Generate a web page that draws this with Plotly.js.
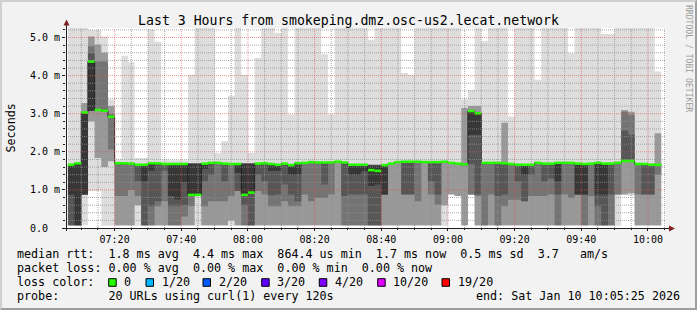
<!DOCTYPE html>
<html><head><meta charset="utf-8">
<script src="https://cdn.plot.ly/plotly-3.0.1.min.js"></script>
<style>
html,body{margin:0;padding:0;background:#f2f2f2;}
#wrap{position:relative;width:697px;height:310px;overflow:hidden;}
#chart{width:697px;height:310px;}
#frame{position:absolute;left:0;top:0;width:697px;height:310px;box-sizing:border-box;border-style:solid;border-width:2px;border-color:#cfcfcf #9e9e9e #9e9e9e #cfcfcf;pointer-events:none;}
</style></head><body>
<div id="wrap"><div id="chart"></div><div id="frame"></div></div>
<script>
// ---- data: one smoke column every 120 s starting 07:06 (values in ms) ----
const firstColumn = '2026-01-10T07:06:00Z';
const stepSeconds = 120;
const med = [1.66,1.70,3.03,4.37,3.10,3.08,2.92,1.70,1.70,1.69,1.66,1.66,1.70,1.70,1.68,1.68,1.68,1.68,0.87,0.87,
1.69,1.71,1.71,1.69,1.68,1.68,0.87,0.93,1.69,1.70,1.68,1.66,1.69,1.65,1.70,1.71,1.73,1.72,1.72,1.72,
1.74,1.72,1.66,1.66,1.66,1.52,1.50,1.65,1.69,1.73,1.74,1.74,1.74,1.73,1.73,1.73,1.74,1.71,1.69,1.67,
3.07,3.01,1.71,1.71,1.71,1.70,1.68,1.66,1.66,1.66,1.71,1.69,1.69,1.71,1.71,1.71,1.69,1.68,1.69,1.71,
1.69,1.69,1.71,1.76,1.76,1.68,1.68,1.66,1.66];
const mx = [5.4,5.4,5.4,5.2,5.2,5.03,3.37,1.80,4.52,4.35,1.84,1.84,5.22,4.89,1.80,1.78,1.78,1.78,4.02,5.4,
5.4,5.4,1.97,2.28,3.47,5.4,4.02,1.97,4.46,5.4,5.4,5.12,5.4,2.98,5.4,5.4,5.4,5.4,4.56,2.98,
5.4,5.4,5.4,5.4,5.4,4.94,5.4,5.4,5.4,5.4,4.07,4.02,5.4,5.4,5.4,5.4,5.4,5.4,5.4,3.37,
3.63,5.4,4.9,5.4,5.4,5.4,2.93,5.4,5.4,5.4,3.89,5.4,5.4,5.4,5.4,4.59,5.4,5.4,5.4,5.4,
5.09,5.09,5.4,5.4,5.4,5.4,5.4,5.4,4.11];
const hb = [1.66,1.70,3.28,5.03,4.82,4.60,3.20,1.70,1.70,1.69,1.66,1.66,1.70,1.70,1.68,1.68,1.68,1.68,1.70,1.70,
1.69,1.71,1.71,1.69,1.68,1.68,1.70,1.70,1.69,1.70,1.68,1.66,1.69,1.65,1.70,1.71,1.73,1.72,1.72,1.72,
1.74,1.72,1.66,1.66,1.66,1.66,1.66,1.65,1.69,1.73,1.74,1.74,1.74,1.73,1.73,1.73,1.74,1.71,1.69,3.15,
3.20,3.20,1.71,1.71,1.71,2.76,1.68,1.66,1.66,1.66,1.71,1.69,1.69,1.71,1.71,1.71,1.69,1.68,1.69,1.71,
1.69,1.69,1.71,3.10,3.05,1.68,1.68,1.66,2.49];
const hc = [1.66,1.70,3.03,4.77,4.37,4.37,2.99,1.70,1.70,1.69,1.66,1.66,1.70,1.70,1.68,1.68,1.68,1.68,1.70,1.70,
1.69,1.71,1.71,1.69,1.68,1.68,1.70,1.70,1.69,1.70,1.68,1.66,1.69,1.65,1.70,1.71,1.73,1.72,1.72,1.72,
1.74,1.72,1.66,1.66,1.66,1.66,1.66,1.65,1.69,1.73,1.74,1.74,1.74,1.73,1.73,1.73,1.74,1.71,1.69,1.67,
3.07,3.01,1.71,1.71,1.71,1.70,1.68,1.66,1.66,1.66,1.71,1.69,1.69,1.71,1.71,1.71,1.69,1.68,1.69,1.71,
1.69,1.69,1.71,3.05,2.97,1.68,1.68,1.66,1.66];
const hd = [1.66,1.70,3.03,4.59,3.12,3.12,2.94,1.70,1.70,1.69,1.66,1.66,1.70,1.70,1.68,1.68,1.68,1.68,1.69,1.69,
1.69,1.71,1.71,1.69,1.68,1.68,1.69,1.69,1.69,1.70,1.68,1.66,1.69,1.65,1.70,1.71,1.73,1.72,1.72,1.72,
1.74,1.72,1.66,1.66,1.66,1.65,1.65,1.65,1.69,1.73,1.74,1.74,1.74,1.73,1.73,1.73,1.74,1.71,1.69,1.67,
3.07,3.01,1.71,1.71,1.71,1.70,1.68,1.66,1.66,1.66,1.71,1.69,1.69,1.71,1.71,1.71,1.69,1.68,1.69,1.71,
1.69,1.69,1.71,2.56,2.45,1.68,1.68,1.66,1.66];
const he = [1.66,1.70,3.03,4.37,3.10,3.08,2.92,1.70,1.70,1.69,1.66,1.66,1.70,1.70,1.68,1.68,1.68,1.68,1.68,1.68,
1.69,1.71,1.71,1.69,1.68,1.68,1.68,1.68,1.69,1.70,1.68,1.66,1.69,1.65,1.70,1.71,1.73,1.72,1.72,1.72,
1.74,1.72,1.66,1.66,1.66,1.64,1.64,1.65,1.69,1.73,1.74,1.74,1.74,1.73,1.73,1.73,1.74,1.71,1.69,1.67,
3.07,3.01,1.71,1.71,1.71,1.70,1.68,1.66,1.66,1.66,1.71,1.69,1.69,1.71,1.71,1.71,1.69,1.68,1.69,1.71,
1.69,1.69,1.71,1.76,1.76,1.68,1.68,1.66,1.66];
const le = [0.88,0.07,0.88,3.07,3.08,3.06,2.90,1.68,1.68,1.67,1.64,1.23,1.50,1.68,1.66,0.84,0.75,1.20,0.87,0.87,
1.55,1.69,1.69,1.67,1.66,1.45,0.87,0.93,1.67,1.68,1.50,1.50,1.67,1.40,1.40,1.69,1.71,1.70,1.70,1.70,
1.72,1.70,1.40,1.40,1.49,1.10,1.14,0.88,1.69,1.73,1.72,1.72,1.72,1.71,1.71,1.71,1.72,1.69,1.67,1.65,
2.45,2.45,1.69,1.69,1.69,1.68,1.66,1.64,1.40,1.64,1.69,1.67,1.67,1.23,1.69,1.69,0.88,0.88,1.67,0.88,
0.88,1.67,1.69,1.74,1.73,1.66,1.66,1.64,1.64];
const ld = [0.07,0.07,0.88,3.07,3.07,3.05,2.90,1.66,1.67,1.66,1.23,0.07,0.57,0.70,1.50,0.57,0.57,0.60,0.85,0.86,
1.23,1.40,1.69,1.23,1.66,0.97,0.60,0.07,1.40,1.23,0.86,0.88,1.14,0.88,0.70,1.69,1.71,1.70,1.14,1.70,
1.72,0.84,0.88,0.88,0.88,0.07,0.07,0.88,1.69,1.73,0.88,0.88,1.72,1.71,1.23,0.88,1.72,1.69,1.67,1.65,
1.68,0.88,1.69,1.69,0.84,0.88,1.66,1.23,0.70,1.40,1.69,1.23,1.30,0.88,1.69,1.69,0.88,0.88,1.67,0.57,
0.07,0.88,1.69,1.74,1.73,1.66,0.88,0.88,1.64];
const lc = [0.07,0.07,0.88,3.07,3.07,3.05,2.06,0.84,0.84,1.00,0.84,0.07,0.07,0.57,0.70,0.07,0.07,0.30,0.57,0.86,
0.57,0.70,0.70,0.70,0.84,0.97,0.07,0.07,0.97,0.88,0.57,0.57,0.70,0.57,0.57,0.88,0.70,0.79,0.79,0.88,
1.72,0.07,0.07,0.07,0.07,0.07,0.07,0.88,1.69,1.73,0.88,0.88,0.70,1.71,0.88,0.62,1.72,1.69,1.67,1.65,
0.88,0.84,0.07,0.88,0.07,0.57,0.74,0.74,0.70,0.84,0.84,0.84,0.88,0.07,0.88,0.79,0.88,0.07,0.84,0.07,
0.07,0.07,0.88,1.74,1.73,0.88,0.88,0.88,1.40];
const lb = [0.07,0.07,0.88,2.80,1.84,1.60,1.75,0.07,0.07,0.07,0.60,0.07,0.07,0.07,0.07,0.07,0.07,0.07,0.07,0.86,
0.07,0.07,0.07,0.07,0.20,0.07,0.07,0.07,0.07,0.07,0.07,0.07,0.07,0.07,0.07,0.07,0.07,0.07,0.07,0.07,
0.07,0.07,0.07,0.07,0.07,0.07,0.07,0.07,0.07,0.07,0.07,0.07,0.07,0.07,0.07,0.07,0.60,0.88,0.84,0.07,
0.88,0.07,0.07,0.07,0.07,0.07,0.07,0.07,0.07,0.07,0.07,0.07,0.07,0.07,0.07,0.07,0.07,0.07,0.07,0.07,
0.07,0.07,0.88,0.88,0.91,0.07,0.07,0.07,0.07];
const mn = [0.06,0.06,0.07,0.97,0.97,0.06,0.06,0.06,0.06,0.06,0.06,0.06,0.06,0.06,0.06,0.06,0.06,0.06,0.06,0.06,
0.06,0.06,0.06,0.06,0.06,0.06,0.06,0.06,0.06,0.06,0.06,0.06,0.06,0.06,0.06,0.06,0.06,0.06,0.06,0.06,
0.06,0.06,0.06,0.06,0.06,0.06,0.06,0.06,0.06,0.06,0.06,0.06,0.06,0.06,0.06,0.06,0.06,0.88,0.84,0.06,
0.88,0.06,0.06,0.06,0.06,0.06,0.06,0.06,0.06,0.06,0.06,0.06,0.06,0.06,0.06,0.06,0.06,0.06,0.06,0.06,
0.06,0.06,0.06,0.88,0.84,0.06,0.06,0.06,0.06];

const yTickVals = [0,1,2,3,4,5];
const yTickText = ['0.0\u00a0\u00a0','1.0 m','2.0 m','3.0 m','4.0 m','5.0 m'];
const titleText = 'Last 3 Hours from smokeping.dmz.osc-us2.lecat.network';
const legendRows = [
  'median rtt:  1.8 ms avg  4.4 ms max  864.4 us min  1.7 ms now  0.5 ms sd  3.7   am/s',
  'packet loss: 0.00 % avg  0.00 % max  0.00 % min  0.00 % now',
  'loss color:',
  'probe:       20 URLs using curl(1) every 120s'
];
const endText = 'end: Sat Jan 10 10:05:25 2026';
const lossLabels = ['0','1/20','2/20','3/20','4/20','10/20','19/20'];
const lossColors = ['#26ff00','#00b8ff','#0059ff','#5e00ff','#7e00ff','#dd00ff','#ff0000'];
const windowEnd = '2026-01-10T10:05:25Z';
const windowHours = 3;

// ---- build ----
const MONO = 'DejaVu Sans Mono';
const L = 66, T = 28, W = 600, H = 200;
const px = x => (x - L) / W;
const py = y => (T + H - y) / H;
const ts = ms => new Date(ms).toISOString().slice(0,19).replace('T',' ');
const t0 = Date.parse(firstColumn), step = stepSeconds*1000;
const N = med.length;
const xs = []; for (let i = 0; i <= N; i++) xs.push(ts(t0 + i*step));
const ext = a => a.concat([a[a.length-1]]);

const traces = [];
const bands = [
  {lo: mn, hi: mx, c: '#dddddd'},
  {lo: lb, hi: hb, c: '#999999'},
  {lo: lc, hi: hc, c: '#747474'},
  {lo: ld, hi: hd, c: '#565656'},
  {lo: le, hi: he, c: '#373737'}
];
bands.forEach(b => {
  traces.push({x: xs, y: ext(b.lo), type: 'scatter', mode: 'lines', line: {width: 0, shape: 'hv'}, hoverinfo: 'skip', showlegend: false});
  traces.push({x: xs, y: ext(b.hi), type: 'scatter', mode: 'lines', line: {width: 0, shape: 'hv'}, fill: 'tonexty', fillcolor: b.c, hoverinfo: 'skip', showlegend: false});
});
traces.push({x: xs, y: ext(med), type: 'scatter', mode: 'lines', line: {width: 1, shape: 'hv', color: '#202020'}, hoverinfo: 'skip', showlegend: false});
const gx = [], gy = [];
for (let i = 0; i < N; i++) { gx.push(xs[i], xs[i+1], null); gy.push(med[i], med[i], null); }
traces.push({x: gx, y: gy, type: 'scatter', mode: 'lines', line: {width: 2.6, color: lossColors[0]}, connectgaps: false, hoverinfo: 'skip', showlegend: false});

const xEndMs = Date.parse(windowEnd), xStartMs = xEndMs - windowHours*3600000;
const GRID = 'rgba(143,143,143,0.75)', MGRID = 'rgba(222,79,79,0.6)';
const shapes = [];
const dayStart = Date.UTC(2026,0,10);
const minorX = [], majorX = [];
for (let t = Math.ceil(xStartMs/300000)*300000; t < xEndMs; t += 300000) {
  (((t - dayStart)/60000) % 20 === 0 ? majorX : minorX).push(t);
}
const minorY = [], majorY = [];
for (let k = 1; k * 0.2 < 5.25; k++) { (k % 5 === 0 ? majorY : minorY).push(+(k*0.2).toFixed(2)); }
const gl = (c) => ({color: c, width: 1, dash: '1px,1px'});
minorX.forEach(t => shapes.push({type:'line', xref:'x', yref:'paper', x0: ts(t), x1: ts(t), y0: 0, y1: 1, layer:'above', line: gl(GRID)}));
minorY.forEach(v => shapes.push({type:'line', xref:'paper', yref:'y', x0: 0, x1: 1, y0: v, y1: v, layer:'above', line: gl(GRID)}));
majorX.forEach(t => shapes.push({type:'line', xref:'x', yref:'paper', x0: ts(t), x1: ts(t), y0: 0, y1: 1, layer:'above', line: gl(MGRID)}));
majorY.forEach(v => shapes.push({type:'line', xref:'paper', yref:'y', x0: 0, x1: 1, y0: v, y1: v, layer:'above', line: gl(MGRID)}));
// axes with arrows (rrdtool style)
shapes.push({type:'line', xref:'paper', yref:'paper', x0: px(66.5), x1: px(66.5), y0: py(231), y1: py(24), layer:'above', line:{color:'#1f1f1f', width:1}});
shapes.push({type:'line', xref:'paper', yref:'paper', x0: px(63), x1: px(670), y0: py(228.5), y1: py(228.5), layer:'above', line:{color:'#1f1f1f', width:1}});
shapes.push({type:'path', xref:'paper', yref:'paper', layer:'above', fillcolor:'#801f1f', line:{width:0},
  path:`M ${px(63.5)} ${py(25.5)} L ${px(69.5)} ${py(25.5)} L ${px(66.5)} ${py(19.5)} Z`});
shapes.push({type:'path', xref:'paper', yref:'paper', layer:'above', fillcolor:'#801f1f', line:{width:0},
  path:`M ${px(669)} ${py(225.5)} L ${px(669)} ${py(231.5)} L ${px(675)} ${py(228.5)} Z`});

const nb = s => s.replace(/ /g, '\u00a0');
const ann = (text, x, y, o) => Object.assign({text: nb(text), xref:'paper', yref:'paper', x: px(x), y: py(y), xanchor:'left', yanchor:'middle',
  showarrow:false, borderpad:0, font:{family: MONO, size: 11.7, color:'#000'}}, o || {});
const annotations = [];
const rowY = [254.3, 268.3, 282.2, 296.3];
legendRows.forEach((r, i) => annotations.push(ann(r, 16, rowY[i])));
annotations.push(ann(endText, 681, rowY[3], {xanchor:'right'}));
const sqX = [108.7, 146, 203, 261.7, 319.3, 377.7, 442];
lossLabels.forEach((lab, i) => {
  shapes.push({type:'rect', xref:'paper', yref:'paper', x0: px(sqX[i]), x1: px(sqX[i]+7.5), y0: py(278.7), y1: py(286.3),
    fillcolor: lossColors[i], line:{color:'#000', width:1}, layer:'above'});
  annotations.push(ann(lab, sqX[i] + 14.5, rowY[2]));
});
annotations.push(ann('Seconds', 10.5, 128, {xanchor:'center', textangle:-90}));
annotations.push(ann('RRDTOOL / TOBI OETIKER', 688.5, 58.5, {xanchor:'center', textangle:90, font:{family: MONO, size: 8.1, color:'#9c9c9c'}}));

const axFont = {family: MONO, size: 10, color:'#000'};
const layout = {
  width: 697, height: 310,
  margin: {l: L, r: 697 - L - W, t: T, b: 310 - T - H, pad: 0},
  paper_bgcolor: '#f2f2f2', plot_bgcolor: '#ffffff',
  showlegend: false,
  title: {text: titleText, x: 0.5, xanchor: 'center', y: 1 - 20/310, yanchor: 'middle', font: {family: MONO, size: 13.2, color: '#000'}},
  xaxis: {type:'date', range: [ts(xStartMs), ts(xEndMs)], showgrid:false, zeroline:false, showline:false,
    tickmode:'linear', tick0:'2026-01-10 07:20:00', dtick: 1200000, tickformat:'%H:%M',
    ticks:'outside', ticklen:2, tickcolor:'#1f1f1f', tickfont: axFont, fixedrange:true,
    minor:{ticks:'outside', ticklen:1, tickmode:'linear', dtick:300000, tickcolor:'#1f1f1f', showgrid:false}},
  yaxis: {range:[0, 5.25], showgrid:false, zeroline:false, showline:false,
    tickmode:'array', tickvals: yTickVals, ticktext: yTickText,
    ticks:'outside', ticklen:3, tickcolor:'#1f1f1f', tickfont: axFont, fixedrange:true,
    minor:{ticks:'outside', ticklen:2, tickmode:'linear', tick0:0, dtick:0.2, tickcolor:'#1f1f1f', showgrid:false}},
  shapes, annotations
};
Plotly.newPlot('chart', traces, layout, {staticPlot: true, displayModeBar: false});
</script></body></html>
